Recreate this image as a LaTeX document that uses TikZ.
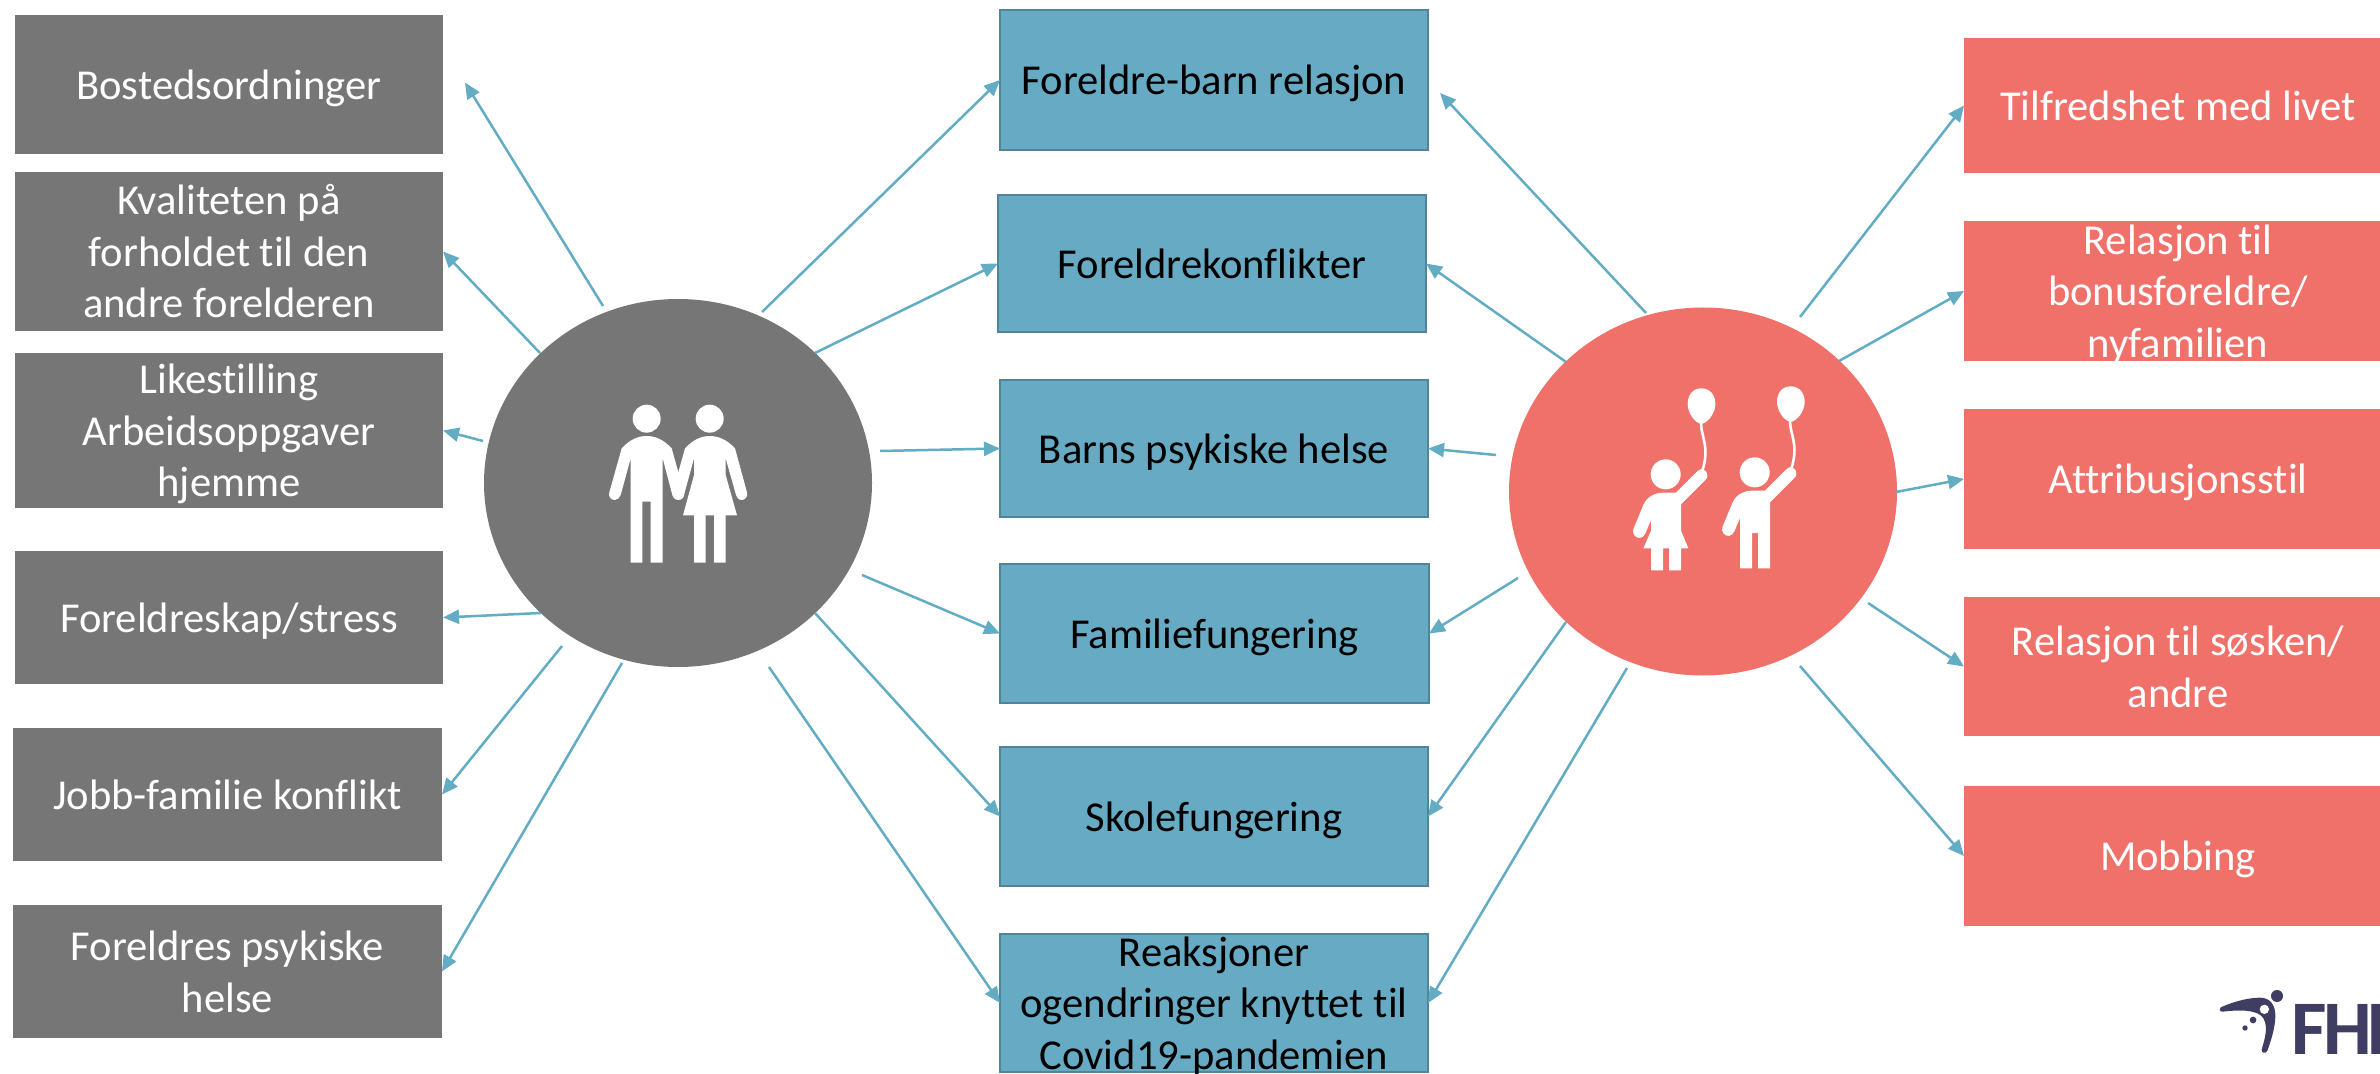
\documentclass[tikz,border=0pt]{standalone}
\usepackage{fontspec}
\setmainfont{Carlito}[Ligatures=NoCommon]
\usetikzlibrary{arrows.meta,calc,shapes.geometric}
\definecolor{grayc}{HTML}{767676}
\definecolor{redc}{HTML}{F0706A}
\definecolor{tealc}{HTML}{66ABC3}
\definecolor{tealdark}{HTML}{4F8499}
\definecolor{arrowc}{HTML}{62ACC4}
\definecolor{navyc}{HTML}{3F3D62}
\newcommand{\lbl}[1]{\raisebox{-7.4pt}[0pt][0pt]{\begin{tabular}[c]{@{}c@{}}#1\end{tabular}}}
\newcommand{\rlbl}[1]{\hspace*{6pt}\lbl{#1}}
\tikzset{
  boxbase/.style={rectangle,inner sep=0pt,outer sep=0pt,align=center,font=\fontsize{21.3}{25.8}\selectfont},
  graybox/.style={boxbase,fill=grayc,text=white},
  redbox/.style={boxbase,fill=redc,text=white},
  tealbox/.style={boxbase,fill=tealc,draw=tealdark,line width=1.4pt,text=black},
  bigcirc/.style={ellipse,inner sep=0pt,outer sep=0pt,minimum width=194pt,minimum height=184pt},
  arr/.style={draw=arrowc,line width=1.25pt,-{Triangle[length=8pt,width=7pt,fill=arrowc]}},
  logotext/.style={inner sep=0pt,outer sep=0pt,anchor=base west,text=navyc,font=\fontsize{38.6}{40}\selectfont\bfseries}
}
\begin{document}
\begin{tikzpicture}[x=0.5pt,y=-0.5pt]
\useasboundingbox (0,0) rectangle (2380,1074);
\fill[white] (0,0) rectangle (2380,1074);
% left boxes
\node[graybox,minimum width=214pt,minimum height=69.5pt] (b1) at (229,84.5) {\lbl{Bostedsordninger}};
\node[graybox,minimum width=214pt,minimum height=79.5pt] (b2) at (229,251.5) {\lbl{Kvaliteten på\\forholdet til den\\andre forelderen}};
\node[graybox,minimum width=214pt,minimum height=77.5pt] (b3) at (229,430.5) {\lbl{Likestilling\\Arbeidsoppgaver\\hjemme}};
\node[graybox,minimum width=214pt,minimum height=66.5pt] (b4) at (229,617.5) {\lbl{Foreldreskap/stress}};
\node[graybox,minimum width=214.5pt,minimum height=66.5pt] (b5) at (227.5,794.5) {\lbl{Jobb-familie konflikt}};
\node[graybox,minimum width=214.5pt,minimum height=66.5pt] (b6) at (227.5,971.5) {\lbl{Foreldres psykiske\\helse}};
% middle boxes
\node[tealbox,minimum width=214pt,minimum height=70pt] (m1) at (1214,80) {\lbl{Foreldre-barn relasjon}};
\node[tealbox,minimum width=214pt,minimum height=68.5pt] (m2) at (1212,263.5) {\lbl{Foreldrekonflikter}};
\node[tealbox,minimum width=214pt,minimum height=68.5pt] (m3) at (1214,448.5) {\lbl{Barns psykiske helse}};
\node[tealbox,minimum width=214.5pt,minimum height=69.5pt] (m4) at (1214.5,633.5) {\lbl{Familiefungering}};
\node[tealbox,minimum width=214pt,minimum height=69.5pt] (m5) at (1214,816.5) {\lbl{Skolefungering}};
\node[tealbox,minimum width=214pt,minimum height=69pt] (m6) at (1214,1003) {\lbl{Reaksjoner\\ogendringer knyttet til\\Covid19-pandemien}};
% right boxes
\node[redbox,minimum width=208pt,minimum height=67.5pt] (r1) at (2172,105.5) {\rlbl{Tilfredshet med livet}};
\node[redbox,minimum width=208pt,minimum height=70pt] (r2) at (2172,291) {\rlbl{Relasjon til\\bonusforeldre/\\nyfamilien}};
\node[redbox,minimum width=208pt,minimum height=70pt] (r3) at (2172,479) {\rlbl{Attribusjonsstil}};
\node[redbox,minimum width=208pt,minimum height=69.5pt] (r4) at (2172,666.5) {\rlbl{Relasjon til søsken/\\andre}};
\node[redbox,minimum width=208pt,minimum height=70pt] (r5) at (2172,856) {\rlbl{Mobbing}};
% circles
\node[bigcirc,fill=grayc] (P) at (678,483) {};
\node[bigcirc,fill=redc] (K) at (1703,491.5) {};
% connectors: parents to the left column
\draw[arr] ($(P)+(-75,-177)$) -- ($(b1.east)+(22,-2)$);
\draw[arr] ($(P)+(-138,-130)$) -- (b2.east);
\draw[arr] ($(P)+(-195,-42)$) -- (b3.east);
\draw[arr] ($(P)+(-137,130)$) -- (b4.east);
\draw[arr] ($(P)+(-116,163)$) -- (b5.east);
\draw[arr] ($(P)+(-56,180)$) -- (b6.east);
% parents to the middle column
\draw[arr] ($(P)+(84,-171)$) -- (m1.west);
\draw[arr] ($(P)+(137,-130)$) -- (m2.west);
\draw[arr] ($(P)+(202,-32)$) -- (m3.west);
\draw[arr] ($(P)+(184,92)$) -- (m4.west);
\draw[arr] ($(P)+(137,130)$) -- (m5.west);
\draw[arr] ($(P)+(91,184)$) -- (m6.west);
% children to the middle column
\draw[arr] ($(K)+(-57,-178.5)$) -- ($(m1.east)+(12,13)$);
\draw[arr] ($(K)+(-137,-129.5)$) -- (m2.east);
\draw[arr] ($(K)+(-207,-36.5)$) -- (m3.east);
\draw[arr] ($(K)+(-185,86.5)$) -- (m4.east);
\draw[arr] ($(K)+(-137,130.5)$) -- (m5.east);
\draw[arr] ($(K)+(-76,176.5)$) -- (m6.east);
% children to the right column
\draw[arr] ($(K)+(97,-174.5)$) -- (r1.west);
\draw[arr] ($(K)+(136,-130.5)$) -- (r2.west);
\draw[arr] ($(K)+(193,0.5)$) -- (r3.west);
\draw[arr] ($(K)+(165,111.5)$) -- (r4.west);
\draw[arr] ($(K)+(97,174.5)$) -- (r5.west);
% parents pictogram
\begin{scope}[shift={(480,280)},x=0.16667pt,y=-0.16667pt]
\fill[white] (500,416) circle[radius=42];
\fill[white] (689,416) circle[radius=42];
\fill[white] (425,505) .. controls (450,478) and (475,468) .. (500,468) .. controls (525,468) and (550,478) .. (575,505) -- (612,637) .. controls (616,650) and (606,660) .. (595,660) .. controls (585,660) and (580,652) .. (577,645) -- (548,535) -- (548,848) -- (512,848) -- (512,665) -- (487,665) -- (487,848) -- (452,848) -- (452,535) -- (422,645) .. controls (419,653) and (413,660) .. (404,660) .. controls (393,660) and (384,650) .. (388,637) -- cycle;
\fill[white] (615,505) .. controls (640,478) and (665,468) .. (689,468) .. controls (714,468) and (740,478) .. (765,505) -- (801,637) .. controls (805,650) and (795,660) .. (785,660) .. controls (775,660) and (770,652) .. (768,645) -- (737,535) -- (737,585) -- (771,706) -- (737,706) -- (737,848) -- (702,848) -- (702,706) -- (677,706) -- (677,848) -- (642,848) -- (642,706) -- (609,706) -- (642,585) -- (642,535) -- (612,645) .. controls (609,653) and (604,660) .. (595,660) .. controls (584,660) and (575,650) .. (578,637) -- cycle;
\end{scope}
% children pictogram
\begin{scope}[shift={(1500,300)},x=0.16667pt,y=-0.16667pt]
\fill[white] (497,523) circle[radius=45];
\fill[white] (604,265) .. controls (630,265) and (646,285) .. (646,312) .. controls (646,338) and (625,368) .. (604,372) .. controls (583,368) and (563,338) .. (563,312) .. controls (563,285) and (578,265) .. (604,265) -- cycle;
\draw[white,line width=1.3pt] (603,370) .. controls (603,410) and (630,440) .. (607,512);
\fill[white] (528,578) -- (594,512) .. controls (606,500) and (623,512) .. (622,528) .. controls (622,533) and (619,537) .. (615,541) -- (543,613) -- (543,692) -- (565,745) -- (543,745) -- (543,811) -- (507,811) -- (507,745) -- (489,745) -- (489,811) -- (453,811) -- (453,745) -- (430,745) -- (453,692) -- (453,660) -- (436,700) .. controls (430,716) and (412,718) .. (403,706) .. controls (398,700) and (398,692) .. (401,685) -- (430,615) .. controls (440,590) and (465,578) .. (490,578) -- cycle;
\fill[white] (764,517) circle[radius=45];
\fill[white] (872,259) .. controls (898,259) and (914,279) .. (914,306) .. controls (914,332) and (893,362) .. (872,366) .. controls (851,362) and (831,332) .. (831,306) .. controls (831,279) and (846,259) .. (872,259) -- cycle;
\draw[white,line width=1.3pt] (870,364) .. controls (870,404) and (897,434) .. (874,506);
\fill[white] (795,572) -- (861,506) .. controls (873,494) and (890,506) .. (889,522) .. controls (889,527) and (886,531) .. (882,535) -- (810,607) -- (810,805) -- (774,805) -- (774,699) -- (756,699) -- (756,805) -- (720,805) -- (720,654) -- (703,694) .. controls (697,710) and (679,712) .. (670,700) .. controls (665,694) and (665,686) .. (668,679) -- (697,609) .. controls (707,584) and (732,572) .. (757,572) -- cycle;
\end{scope}
% logo
\begin{scope}[shift={(2180,960)},x=0.16667pt,y=-0.16667pt]
\fill[navyc] (291,108) circle[radius=18];
\fill[navyc] (122,142) .. controls (160,125) and (205,113) .. (240,113) .. controls (270,113) and (287,135) .. (286,170) .. controls (285,205) and (272,245) .. (262,272) .. controls (258,282) and (243,280) .. (245,268) .. controls (255,235) and (265,200) .. (250,175) .. controls (235,150) and (185,148) .. (128,155) .. controls (118,155) and (116,146) .. (122,142) -- cycle;
\fill[white] (253,148) circle[radius=14];
\fill[navyc] (219,180) circle[radius=10];
\fill[navyc] (195,204) circle[radius=8];
\end{scope}
\node[logotext] (logo) at (2291,1054) {F\kern-1.7pt H\kern-2.8pt I\kern-3.5pt};
\end{tikzpicture}
\end{document}
